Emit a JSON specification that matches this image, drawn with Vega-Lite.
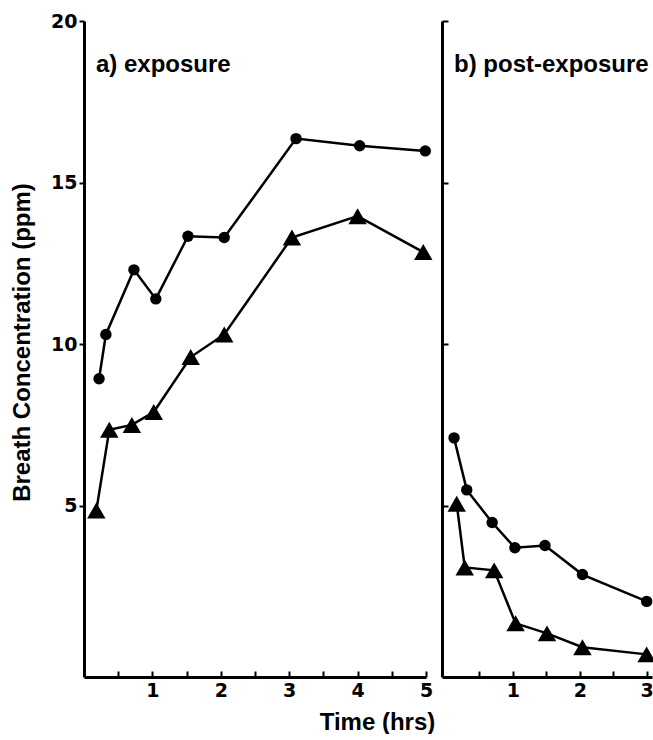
{
  "$schema": "https://vega.github.io/schema/vega-lite/v6.json",
  "autosize": {"type": "pad"},
  "padding": {"left": 10, "top": 12, "right": 0, "bottom": 0},
  "background": "white",
  "bounds": "flush",
  "spacing": 16,
  "config": {
    "view": {"stroke": null},
    "font": "Liberation Sans",
    "axis": {
      "grid": false,
      "domainColor": "black",
      "domainWidth": 3,
      "tickColor": "black",
      "tickWidth": 2,
      "labelFont": "DejaVu Sans",
      "labelFontWeight": "bold",
      "labelFontSize": 19,
      "labelColor": "black",
      "labelFlush": false,
      "labelOverlap": false,
      "titleFont": "Liberation Sans",
      "titleFontWeight": "bold",
      "titleFontSize": 24,
      "titleColor": "black"
    }
  },
  "datasets": {
    "breath": [
      {"phase": "exposure", "series": "circle", "time": 0.22, "conc": 8.93},
      {"phase": "exposure", "series": "circle", "time": 0.32, "conc": 10.3},
      {"phase": "exposure", "series": "circle", "time": 0.73, "conc": 12.3},
      {"phase": "exposure", "series": "circle", "time": 1.05, "conc": 11.4},
      {"phase": "exposure", "series": "circle", "time": 1.52, "conc": 13.34},
      {"phase": "exposure", "series": "circle", "time": 2.05, "conc": 13.3},
      {"phase": "exposure", "series": "circle", "time": 3.1, "conc": 16.36},
      {"phase": "exposure", "series": "circle", "time": 4.03, "conc": 16.14},
      {"phase": "exposure", "series": "circle", "time": 4.99, "conc": 15.98},
      {"phase": "exposure", "series": "triangle", "time": 0.18, "conc": 4.85},
      {"phase": "exposure", "series": "triangle", "time": 0.37, "conc": 7.35},
      {"phase": "exposure", "series": "triangle", "time": 0.7, "conc": 7.5},
      {"phase": "exposure", "series": "triangle", "time": 1.02, "conc": 7.9},
      {"phase": "exposure", "series": "triangle", "time": 1.56, "conc": 9.6},
      {"phase": "exposure", "series": "triangle", "time": 2.05, "conc": 10.3},
      {"phase": "exposure", "series": "triangle", "time": 3.04, "conc": 13.3},
      {"phase": "exposure", "series": "triangle", "time": 4.0, "conc": 13.96},
      {"phase": "exposure", "series": "triangle", "time": 4.96, "conc": 12.85},
      {"phase": "post", "series": "circle", "time": 0.12, "conc": 7.1},
      {"phase": "post", "series": "circle", "time": 0.31, "conc": 5.49},
      {"phase": "post", "series": "circle", "time": 0.69, "conc": 4.48},
      {"phase": "post", "series": "circle", "time": 1.03, "conc": 3.7},
      {"phase": "post", "series": "circle", "time": 1.48, "conc": 3.77},
      {"phase": "post", "series": "circle", "time": 2.04, "conc": 2.87},
      {"phase": "post", "series": "circle", "time": 3.0, "conc": 2.04},
      {"phase": "post", "series": "triangle", "time": 0.16, "conc": 5.06},
      {"phase": "post", "series": "triangle", "time": 0.28, "conc": 3.09},
      {"phase": "post", "series": "triangle", "time": 0.72, "conc": 3.0},
      {"phase": "post", "series": "triangle", "time": 1.04, "conc": 1.36},
      {"phase": "post", "series": "triangle", "time": 1.51, "conc": 1.05},
      {"phase": "post", "series": "triangle", "time": 2.04, "conc": 0.62},
      {"phase": "post", "series": "triangle", "time": 3.0, "conc": 0.4}
    ]
  },
  "hconcat": [
    {
      "width": 342,
      "height": 656,
      "encoding": {
        "x": {"field": "time", "type": "quantitative", "scale": {"domain": [0, 5], "nice": false},
          "axis": {"values": [0.5, 1, 1.5, 2, 2.5, 3, 3.5, 4, 4.5, 5],
            "labelExpr": "datum.value % 1 === 0 ? format(datum.value, 'd') : ''",
            "tickSize": -6, "labelPadding": 10,
            "title": "Time (hrs)", "titleX": 293, "titleY": 52,
            "titleAlign": "center", "titleBaseline": "alphabetic"}},
        "y": {"field": "conc", "type": "quantitative", "scale": {"domain": [-0.3, 20], "nice": false},
          "axis": {"values": [5, 10, 15, 20], "tickSize": 5, "labelPadding": 2,
            "title": "Breath Concentration (ppm)", "titlePadding": 16, "titleY": 321}}
      },
      "layer": [
        {
          "data": {"name": "breath"},
          "transform": [{"filter": "datum.phase === 'exposure'"}],
          "mark": {"type": "line", "color": "black", "strokeWidth": 2.5},
          "encoding": {"detail": {"field": "series"}}
        },
        {
          "data": {"name": "breath"},
          "transform": [{"filter": "datum.phase === 'exposure'"}],
          "mark": {"type": "point", "filled": true, "color": "black", "opacity": 1},
          "encoding": {
            "shape": {"field": "series", "scale": {"domain": ["circle", "triangle"], "range": ["circle", "triangle-up"]}, "legend": null},
            "size": {"field": "series", "scale": {"domain": ["circle", "triangle"], "range": [130, 340]}, "legend": null}
          }
        },
        {
          "data": {"values": [{"label": "a) exposure", "time": 0.175, "conc": 18.65}]},
          "mark": {"type": "text", "align": "left", "baseline": "middle", "fontSize": 24, "fontWeight": "bold", "font": "Liberation Sans", "color": "black"},
          "encoding": {"text": {"field": "label"}}
        }
      ]
    },
    {
      "width": 210,
      "height": 656,
      "encoding": {
        "x": {"field": "time", "type": "quantitative", "scale": {"domain": [-0.06, 3.08], "nice": false},
          "axis": {"values": [0.5, 1, 1.5, 2, 2.5, 3],
            "labelExpr": "datum.value % 1 === 0 ? format(datum.value, 'd') : ''",
            "tickSize": -6, "labelPadding": 10, "title": null}},
        "y": {"field": "conc", "type": "quantitative", "scale": {"domain": [-0.3, 20], "nice": false},
          "axis": {"values": [5, 10, 15, 20], "tickSize": -6, "labels": false, "title": null}}
      },
      "layer": [
        {
          "data": {"name": "breath"},
          "transform": [{"filter": "datum.phase === 'post'"}],
          "mark": {"type": "line", "color": "black", "strokeWidth": 2.5},
          "encoding": {"detail": {"field": "series"}}
        },
        {
          "data": {"name": "breath"},
          "transform": [{"filter": "datum.phase === 'post'"}],
          "mark": {"type": "point", "filled": true, "color": "black", "opacity": 1},
          "encoding": {
            "shape": {"field": "series", "scale": {"domain": ["circle", "triangle"], "range": ["circle", "triangle-up"]}, "legend": null},
            "size": {"field": "series", "scale": {"domain": ["circle", "triangle"], "range": [130, 340]}, "legend": null}
          }
        },
        {
          "data": {"values": [{"label": "b) post-exposure", "time": 0.12, "conc": 18.65}]},
          "mark": {"type": "text", "align": "left", "baseline": "middle", "fontSize": 24, "fontWeight": "bold", "font": "Liberation Sans", "color": "black"},
          "encoding": {"text": {"field": "label"}}
        }
      ]
    }
  ]
}
